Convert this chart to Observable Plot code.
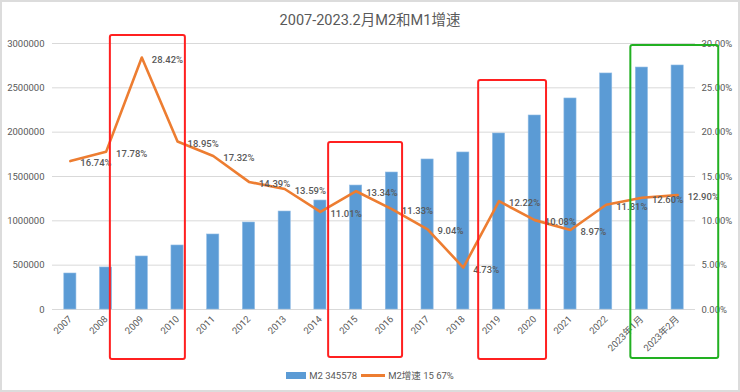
<!DOCTYPE html>
<html>
<head>
<meta charset="utf-8">
<script src="https://cdn.jsdelivr.net/npm/d3@7"></script>
<script src="https://cdn.jsdelivr.net/npm/@observablehq/plot@0.6"></script>
<style>
  html, body { margin: 0; padding: 0; background: #fff; }
  #wrap { position: relative; width: 740px; height: 392px; overflow: hidden; font-family: Roboto, "Noto Sans CJK SC", sans-serif; }
  #title { position: absolute; top: 8px; left: 0; width: 740px; text-align: center; font-size: 14.5px; color: #595959; font-family: Roboto, "Noto Sans CJK SC", sans-serif; }
  #chart { position: absolute; top: 0; left: 0; }
  #legend { position: absolute; top: 368px; left: 0; width: 740px; display: flex; justify-content: center; align-items: center; font-size: 9.5px; color: #595959; font-family: Roboto, "Noto Sans CJK SC", sans-serif; }
  .sw-bar { display: inline-block; width: 20px; height: 7px; background: #5b9bd5; margin-right: 3px; }
  .sw-line { display: inline-block; width: 24px; height: 3px; background: #ed7d31; margin: 0 3px 0 4px; }
  #frame { position: absolute; top: 0; left: 0; width: 740px; height: 392px; box-sizing: border-box; border: 2px solid #dcdcdc; pointer-events: none; }
</style>
</head>
<body>
<div id="wrap">
  <div id="chart"></div>
  <div id="title">2007-2023.2月M2和M1增速</div>
  <div id="legend"><span class="sw-bar"></span><span>M2 345578</span><span class="sw-line"></span><span>M2增速 15 67%</span></div>
  <div id="frame"></div>
</div>
<script>
const categories = ["2007","2008","2009","2010","2011","2012","2013","2014","2015","2016","2017","2018","2019","2020","2021","2022","2023年1月","2023年2月"];
const m2 = [406000, 474000, 598000, 722000, 846000, 981000, 1105000, 1229000, 1398000, 1545000, 1692000, 1771000, 1985000, 2188000, 2380000, 2662000, 2729000, 2752000];
const m2Growth = [16.74, 17.78, 28.42, 18.95, 17.32, 14.39, 13.59, 11.01, 13.34, 11.33, 9.04, 4.73, 12.22, 10.08, 8.97, 11.81, 12.60, 12.90];
const leftTicks = [0, 500000, 1000000, 1500000, 2000000, 2500000, 3000000];
const rightTicks = [0, 5, 10, 15, 20, 25, 30];

// highlight boxes (category index range, top value in M2 units)
const boxes = [
  {x1: 1.12, x2: 3.22, top: 3090000, bottom: -564000, color: "#ff2020"},
  {x1: 7.23, x2: 9.30, top: 1883000, bottom: -541000, color: "#ff2020"},
  {x1: 11.43, x2: 13.33, top: 2583000, bottom: -564000, color: "#ff2020"},
  {x1: 15.69, x2: 18.15, top: 2977000, bottom: -553000, color: "#22b022"}
];

const idx = d3.range(categories.length);
const scaleFactor = 3000000 / 30;

const chart = Plot.plot({
  width: 740,
  height: 392,
  marginTop: 43,
  marginBottom: 83,
  marginLeft: 52,
  marginRight: 45,
  style: {fontFamily: "Roboto, 'Noto Sans CJK SC', sans-serif", fontSize: "9.5px", color: "#595959", background: "transparent"},
  x: {type: "linear", domain: [-0.5, categories.length - 0.5], axis: null},
  y: {domain: [0, 3000000], axis: null},
  marks: [
    Plot.gridY(leftTicks, {stroke: "#d9d9d9", strokeOpacity: 1}),
    Plot.axisY({anchor: "left", ticks: leftTicks, tickFormat: d => String(d), tickSize: 0, tickPadding: 8, fill: "#595959"}),
    Plot.axisY({anchor: "right", ticks: rightTicks.map(d => d * scaleFactor), tickFormat: d => (d / scaleFactor).toFixed(2) + "%", tickSize: 0, tickPadding: 6, fill: "#595959"}),
    Plot.axisX({ticks: idx, tickFormat: i => categories[i], tickRotate: -45, tickSize: 0, tickPadding: 8, fill: "#595959"}),
    Plot.rectY(idx, {x1: i => i - 0.17, x2: i => i + 0.17, y1: 0, y2: i => m2[i], fill: "#5b9bd5", stroke: "#8fbbe4", strokeWidth: 0.6}),
    Plot.line(idx, {x: i => i, y: i => m2Growth[i] * scaleFactor, stroke: "#ed7d31", strokeWidth: 2.6, curve: "linear"}),
    Plot.text(idx, {x: i => i, y: i => m2Growth[i] * scaleFactor, text: i => m2Growth[i].toFixed(2) + "%", textAnchor: "start", dx: 10, dy: 2, fill: "#595959", fontWeight: 500}),
    Plot.rect(boxes, {x1: "x1", x2: "x2", y1: "bottom", y2: "top", fill: "none", stroke: "color", strokeWidth: 2, rx: 2})
  ]
});
document.getElementById("chart").appendChild(chart);
</script>
</body>
</html>
